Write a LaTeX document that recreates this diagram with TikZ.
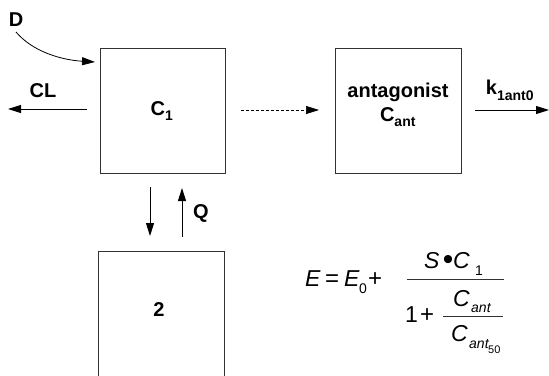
\documentclass[tikz,border=0pt]{standalone}
\usepackage{fontspec}
\setmainfont{Liberation Sans}
\usetikzlibrary{arrows.meta}
\definecolor{boxline}{RGB}{50,50,50}
\begin{document}
\begin{tikzpicture}[x=1pt,y=-1pt,
  box/.style={draw=boxline,line width=1pt,minimum width=125pt,minimum height=125pt,inner sep=0pt,anchor=center},
  lbl/.style={font=\fontsize{20}{22}\selectfont\bfseries,inner sep=0pt},
  flow/.style={line width=0.9pt,-{Triangle[length=13pt,width=8pt]}},
  eqm/.style={font=\fontsize{23}{25}\selectfont\itshape,inner sep=0pt,anchor=base west},
  eqr/.style={font=\fontsize{23}{25}\selectfont,inner sep=0pt,anchor=base west},
  eqo/.style={font=\fontsize{24}{26}\selectfont,inner sep=0pt,anchor=base west},
  eqs/.style={font=\fontsize{14}{15}\selectfont\itshape,inner sep=0pt,anchor=base west},
  eqsr/.style={font=\fontsize{14}{15}\selectfont,inner sep=0pt,anchor=base west},
  eqss/.style={font=\fontsize{11}{12}\selectfont,inner sep=0pt,anchor=base west},
  bar/.style={draw=boxline,line width=1pt},
]
\useasboundingbox (0,0) rectangle (549,375);
\clip (0,0) rectangle (549,375);
% boxes
\node[box] (c1) at (162.5,110.5) {};
\node[box,minimum width=126pt] (ant) at (398,111) {};
\node[box,minimum width=126pt] (two) at (161,313.5) {};
% box texts
\node[lbl] (c1t) at (162,111) {C\textsubscript{\raisebox{-0.35ex}{1}}};
\node[lbl] (antt) at (398,92) {antagonist};
\node[lbl] (cantt) at (398,117) {C\textsubscript{\raisebox{-0.35ex}{ant}}};
\node[lbl] (twot) at (159,310) {2};
% D
\node[lbl] (D) at (16,20) {D};
\coordinate (dstart) at (16,32);
\coordinate (dend) at (95,62);
\draw[flow,line width=0.8pt] (dstart) .. controls (33,52) and (62,60) .. (dend);
% CL
\coordinate (clstart) at (87,109);
\coordinate (clend) at (8,109);
\draw[flow] (clstart) -- (clend);
\node[lbl] (CL) at (43,91) {CL};
% dashed transfer
\coordinate (tstart) at (241,110);
\coordinate (tend) at (319,110);
\draw[flow,line width=0.7pt,dash pattern=on 3pt off 2pt] (tstart) -- (tend);
% elimination of antagonist
\coordinate (kstart) at (475,110);
\coordinate (kend) at (549,110);
\draw[flow] (kstart) -- (kend);
\node[lbl] (k) at (510,90) {k\textsubscript{\raisebox{-0.35ex}{1ant0}}};
% exchange arrows
\coordinate (q1a) at (150,187);
\coordinate (q1b) at (150,236);
\coordinate (q2a) at (182,237);
\coordinate (q2b) at (182,188);
\draw[flow] (q1a) -- (q1b);
\draw[flow] (q2a) -- (q2b);
\node[lbl] (Q) at (201,213) {Q};
% equation
\node[eqm] (eE) at (305,286) {E};
\node[eqo] (eeq) at (325,286) {=};
\node[eqm] (eE0) at (344,286) {E};
\node[eqsr] (e0) at (359,293) {0};
\node[eqo] (eplus) at (368,286) {+};
\draw[bar] (407,279) -- (504,279);
\node[eqm] (eS) at (424,268) {S};
\node[inner sep=0pt,font=\fontsize{30}{30}\selectfont] (ebul) at (448,262) {•};
\node[eqm] (eC) at (453,268) {C};
\node[eqsr] (e1) at (475,275) {1};
\node[eqr] (eone) at (405,322) {1};
\node[eqo] (eplus2) at (420,322) {+};
\draw[bar] (443,316) -- (503,316);
\node[eqm] (eCa) at (453,306) {C};
\node[eqs] (eant) at (471,312) {ant};
\node[eqm] (eCb) at (451,341) {C};
\node[eqs] (eantb) at (469,348) {ant};
\node[eqss] (e50) at (488,353) {50};
\end{tikzpicture}
\end{document}
